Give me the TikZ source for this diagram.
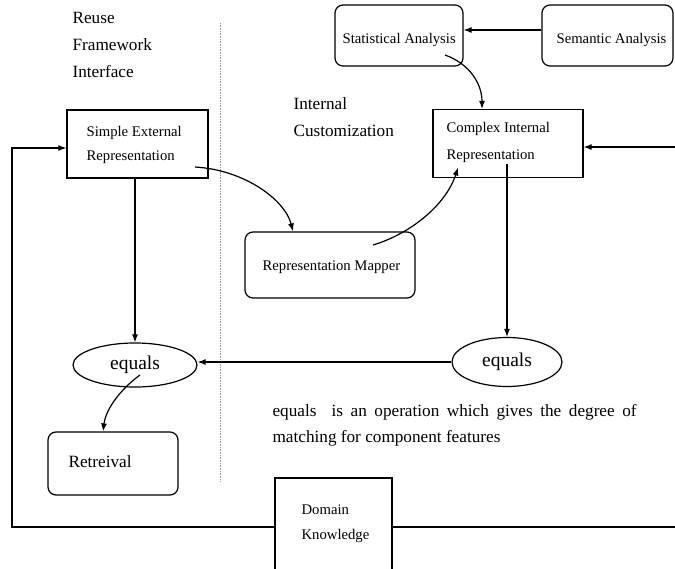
\documentclass[tikz,border=0pt]{standalone}
\usepackage{fontspec}
\setmainfont{Liberation Serif}
\usetikzlibrary{arrows.meta,shapes.geometric,calc}
\begin{document}
\begin{tikzpicture}[x=1pt,y=-1pt,
  line width=1.2pt,
  arr/.style={-{Latex[length=8pt,width=6pt]}},
  sqbox/.style={draw, rectangle, inner sep=0pt},
  rbox/.style={draw, rectangle, rounded corners=8pt, inner sep=0pt},
  oval/.style={draw, ellipse, inner sep=0pt, font=\fontsize{19.5}{22}\selectfont},
  boxtext/.style={inner sep=0pt, anchor=base west, font=\fontsize{14.7}{17}\selectfont},
  note/.style={inner sep=0pt, anchor=base west, font=\fontsize{17.2}{20}\selectfont},
  divider/.style={densely dotted, line width=0.6pt, black!40}
]
\useasboundingbox (0,0) rectangle (675,568);
\clip (0,0) rectangle (675,568);

% boxes
\node[rbox, minimum width=128pt, minimum height=61pt] (stat) at (399,35.5) {};
\node[rbox, minimum width=131pt, minimum height=61pt] (sem) at (607.5,35.5) {};
\node[sqbox, minimum width=141pt, minimum height=68pt] (sext) at (137.5,144) {};
\node[sqbox, minimum width=150pt, minimum height=68pt] (cir) at (508,143.5) {};
\node[rbox, minimum width=170pt, minimum height=66pt] (map) at (330,265) {};
\node[rbox, minimum width=130pt, minimum height=63pt] (ret) at (113,463.5) {};
\node[sqbox, minimum width=117pt, minimum height=98pt] (dk) at (333.5,527) {};

% comparison operators
\node[oval, minimum width=124pt, minimum height=44pt] (eql) at (135,365) {equals};
\node[oval, minimum width=110pt, minimum height=49pt] (eqr) at (507,362) {equals};

% box labels
\node[boxtext] (stat-t) at (342,43) {Statistical Analysis};
\node[boxtext] (sem-t) at (556,43) {Semantic Analysis};
\node[boxtext] (sext-t1) at (86,136) {Simple External};
\node[boxtext] (sext-t2) at (86,160) {Representation};
\node[boxtext] (cir-t1) at (446,132) {Complex Internal};
\node[boxtext] (cir-t2) at (446,159) {Representation};
\node[boxtext] (map-t) at (262,270.5) {Representation Mapper};
\node[boxtext] (dk-t1) at (301,514.5) {Domain};
\node[boxtext] (dk-t2) at (301,539.5) {Knowledge};
\node[note] (ret-t) at (68,467.5) {Retreival};

% region headings
\node[note] (rfi1) at (72,23) {Reuse};
\node[note] (rfi2) at (72,50) {Framework};
\node[note] (rfi3) at (72,77) {Interface};
\node[note] (ic1) at (293,109.5) {Internal};
\node[note] (ic2) at (293,136.5) {Customization};

% explanation
\node[note] (expl1) at (272,416.5) {\makebox[364pt][s]{equals\ \ is an operation which gives the degree of}};
\node[note] (expl2) at (272,442.5) {matching for component features};

% divider between the two regions
\coordinate (divtop) at (220,23);
\coordinate (divbot) at (220,482);
\draw[divider] (divtop) -- (divbot);

% connectors
\draw[arr] ([yshift=5.5pt]sem.west) -- ([yshift=5.5pt]stat.east);
\draw[arr] ($(stat.center)+(46,19.5)$) .. controls (470,64) and (482,84) .. (cir.north -| 482,0);
\draw[arr] ($(sext.center)+(57.5,23)$) .. controls (245,170) and (285,200) .. (map.north -| 293,0);
\draw[arr] ($(map.center)+(43,-20)$) .. controls (410,234) and (446,205) .. ($(cir.center)+(-50,24)$);
\draw[arr] ($(cir.center)+(-1,20.5)$) -- (eqr.north);
\draw[arr] (eqr.west) -- (eqr.west -| eql.east);
\draw[arr] (eql.north |- sext.south) -- (eql.north);
\draw[arr] ($(eql.center)+(5,10)$) .. controls (122,388) and (106,408) .. (ret.north -| 103,0);

% feedback from domain knowledge to both representations
\coordinate (leftrail) at (12,148);
\coordinate (rightrail) at (690,147);
\draw[arr] (dk.west) -| (leftrail) -- (sext.west |- leftrail);
\draw[arr] (dk.east) -| (rightrail) -- (cir.east |- rightrail);
\end{tikzpicture}
\end{document}
